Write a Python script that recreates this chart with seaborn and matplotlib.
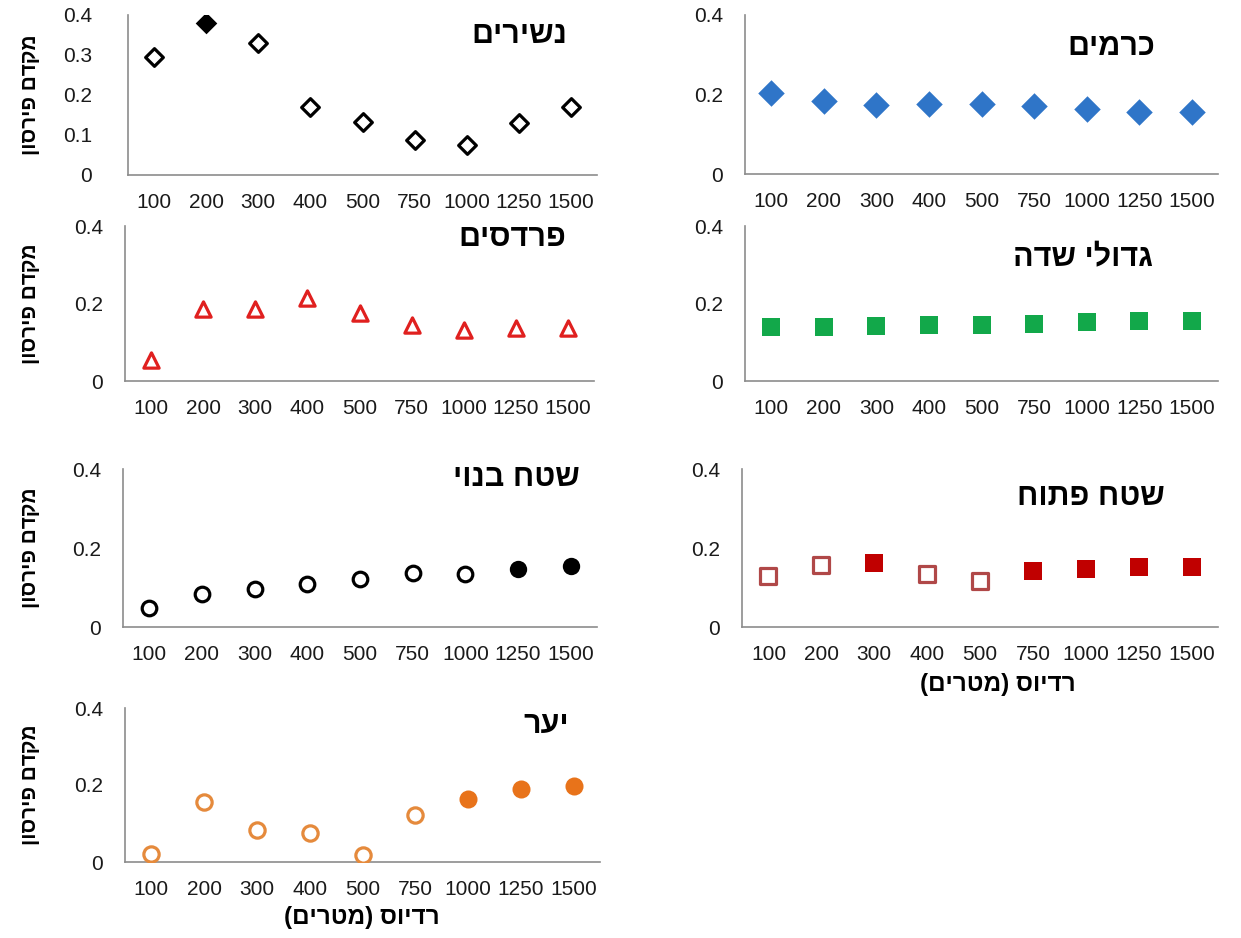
import matplotlib
matplotlib.use("Agg")
import matplotlib.pyplot as plt
import seaborn as sns
import pandas as pd

# Radius categories (metres)
radii = ["100", "200", "300", "400", "500", "750", "1000", "1250", "1500"]

# Pearson coefficient per land-use class, and which points are drawn filled
nashirim = [0.295, 0.381, 0.329, 0.169, 0.133, 0.088, 0.074, 0.129, 0.169]
nashirim_filled = [0, 1, 0, 0, 0, 0, 0, 0, 0]

kramim = [0.205, 0.184, 0.174, 0.177, 0.175, 0.171, 0.163, 0.155, 0.155]
kramim_filled = [1, 1, 1, 1, 1, 1, 1, 1, 1]

pardesim = [0.054, 0.185, 0.187, 0.214, 0.175, 0.144, 0.131, 0.136, 0.136]
pardesim_filled = [0, 0, 0, 0, 0, 0, 0, 0, 0]

gidulei_sade = [0.139, 0.139, 0.142, 0.144, 0.144, 0.146, 0.151, 0.154, 0.154]
gidulei_sade_filled = [1, 1, 1, 1, 1, 1, 1, 1, 1]

shetach_banui = [0.047, 0.084, 0.095, 0.108, 0.121, 0.137, 0.134, 0.148, 0.154]
shetach_banui_filled = [0, 0, 0, 0, 0, 0, 0, 1, 1]

shetach_patuach = [0.128, 0.158, 0.161, 0.135, 0.117, 0.141, 0.148, 0.151, 0.151]
shetach_patuach_filled = [0, 0, 1, 0, 0, 1, 1, 1, 1]

yaar = [0.021, 0.157, 0.083, 0.076, 0.019, 0.122, 0.163, 0.189, 0.198]
yaar_filled = [0, 0, 0, 0, 0, 0, 1, 1, 1]

titles = ["נשירים", "כרמים", "פרדסים", "גדולי שדה", "שטח בנוי", "שטח פתוח", "יער"]
y_label = "מקדם פירסון"
x_label = "רדיוס (מטרים)"

sns.set_theme(style="white")
plt.rcParams["font.family"] = ["Liberation Sans", "DejaVu Sans"]

W, H = 1241, 938
fig = plt.figure(figsize=(W / 100, H / 100), dpi=100)

AXIS_GREY = "#8c8c8c"


def visual(s):
    """Hebrew runs right to left; matplotlib lays glyphs left to right."""
    mirror = {"(": ")", ")": "("}
    return "".join(mirror.get(c, c) for c in reversed(s))


def px_axes(left, right, top, bottom):
    return fig.add_axes([left / W, 1 - bottom / H, (right - left) / W, (bottom - top) / H])


# (values, filled flags, title, axes box in px, marker, size, open edge, fill colour, yticks,
#  y tick pad, title right edge x, title centre y, show y label)
panels = [
    (nashirim, nashirim_filled, titles[0], (128, 597, 15, 175), "D", 11, "black", "black",
     [0, 0.1, 0.2, 0.3, 0.4], 20, 567, 35, True),
    (kramim, kramim_filled, titles[1], (745, 1218, 15, 174), "D", 13.5, "#2f75c8", "#2f75c8",
     [0, 0.2, 0.4], 10, 1155, 47, False),
    (pardesim, pardesim_filled, titles[2], (125, 594, 226, 381), "^", 13, "#e0201f", "#e0201f",
     [0, 0.2, 0.4], 10, 566, 238, True),
    (gidulei_sade, gidulei_sade_filled, titles[3], (745, 1218, 226, 381), "s", 13, "#12a84a", "#12a84a",
     [0, 0.2, 0.4], 10, 1153, 258, False),
    (shetach_banui, shetach_banui_filled, titles[4], (123, 597, 469, 627), "o", 12.5, "black", "black",
     [0, 0.2, 0.4], 10, 580, 478, True),
    (shetach_patuach, shetach_patuach_filled, titles[5], (742, 1218, 469, 627), "s", 13, "#b04848", "#c00000",
     [0, 0.2, 0.4], 10, 1165, 497, False),
    (yaar, yaar_filled, titles[6], (125, 600, 708, 862), "o", 13, "#e58a3c", "#e8731a",
     [0, 0.2, 0.4], 10, 569, 725, True),
]

for vals, filled, title, box, marker, size, edge, fill, yticks, ypad, tx, ty, ylab in panels:
    ax = px_axes(*box)
    df = pd.DataFrame({"radius": radii, "r": vals, "filled": filled})
    open_pts = df[df["filled"] == 0]
    solid_pts = df[df["filled"] == 1]
    if len(open_pts):
        sns.stripplot(data=open_pts, x="radius", y="r", order=radii, jitter=False,
                      marker=marker, size=size - 2, color="white", edgecolor=edge,
                      linewidth=2.3, ax=ax, zorder=3)
    if len(solid_pts):
        sns.stripplot(data=solid_pts, x="radius", y="r", order=radii, jitter=False,
                      marker=marker, size=size, color=fill, linewidth=0, ax=ax, zorder=3)

    ax.set_xlim(-0.5, len(radii) - 0.5)
    ax.set_ylim(0, 0.4)
    ax.set_yticks(yticks)
    ax.set_yticklabels(["0" if t == 0 else f"{t:.1f}" for t in yticks])
    ax.set_xlabel("")
    ax.set_ylabel("")

    # category labels at centres, tick marks on the boundaries
    ax.set_xticks(range(len(radii)))
    ax.set_xticklabels(radii)
    ax.set_xticks([i - 0.5 for i in range(len(radii) + 1)], minor=True)
    ax.tick_params(axis="x", which="major", length=0, pad=13, labelsize=15, colors="#1a1a1a")
    ax.tick_params(axis="x", which="minor", length=7, width=1, color=AXIS_GREY, direction="out")
    ax.tick_params(axis="y", which="major", length=6, width=1, color=AXIS_GREY, direction="out",
                   labelsize=15, labelcolor="#1a1a1a", pad=ypad)

    for side in ("top", "right"):
        ax.spines[side].set_visible(False)
    for side in ("left", "bottom"):
        ax.spines[side].set_color(AXIS_GREY)
        ax.spines[side].set_linewidth(1.2)
    ax.patch.set_alpha(0)

    fig.text(tx / W, 1 - ty / H, visual(title), ha="right", va="center",
             fontsize=22, fontweight="bold", color="black")

    if ylab:
        cy = (box[2] + box[3]) / 2
        fig.text(30 / W, 1 - cy / H, visual(y_label), rotation=90, ha="center", va="center",
                 fontsize=15, fontweight="bold", color="black")

# radius axis labels under the bottom panel of each column
fig.text(998 / W, 1 - 684 / H, visual(x_label), ha="center", va="center",
         fontsize=17.5, fontweight="bold", color="black")
fig.text(362 / W, 1 - 917 / H, visual(x_label), ha="center", va="center",
         fontsize=17.5, fontweight="bold", color="black")

fig.savefig("out.png", dpi=100, facecolor="white")
